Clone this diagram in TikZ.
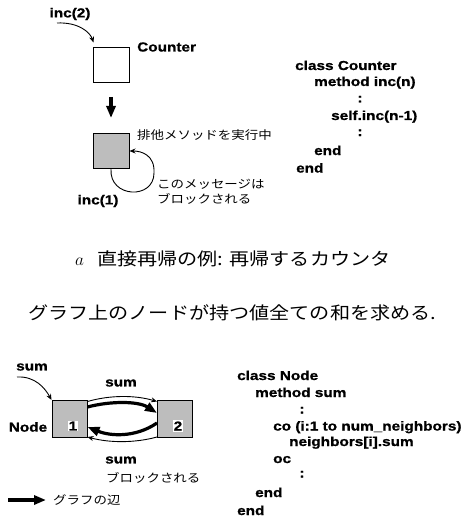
\documentclass[tikz,border=0pt]{standalone}
\usepackage{fontspec}
\newfontfamily\hb{Liberation Sans Bold}[FakeStretch=1.18,FakeBold=1]
\newfontfamily\jp{Noto Sans CJK JP}[FakeStretch=1.15]
\usetikzlibrary{arrows.meta,calc}
\begin{document}
\begin{tikzpicture}[x=1pt,y=-1pt,
  box/.style={draw,line width=1pt,minimum width=36pt,minimum height=35pt,inner sep=0pt},
  shaded/.style={box,fill=black!26},
  code/.style={anchor=base west,inner sep=0pt,font=\hb\fontsize{13}{15}\selectfont},
  lbl/.style={inner sep=0pt,font=\hb\fontsize{13}{15}\selectfont},
  jtxt/.style={anchor=west,inner sep=0pt,font=\jp\fontsize{11.7}{14}\selectfont},
  big/.style={inner sep=0pt,font=\jp\fontsize{17.5}{20}\selectfont},
  msg/.style={line width=0.9pt,-{Stealth[length=6pt,width=5pt]}},
  edgearrow/.style={line width=3.2pt,-{Triangle[length=12pt,width=9pt]}},
]
\useasboundingbox (0,0) rectangle (467,524);

% ---------- top: Counter ----------
\node[lbl] (inc2) at (70,14) {inc(2)};
\node[box] (cnt) at (111,65.5) {};
\node[lbl,anchor=west] (cntl) at (137,47) {Counter};
\coordinate (inc2s) at (57,23);
\draw[msg] (inc2s) .. controls (78,22) and (90,32) .. ($(cnt.north west)+(1,-5)$);

\coordinate (da1) at (111,97);
\coordinate (da2) at (111,118);
\draw[edgearrow] (da1) -- (da2);

\node[shaded] (busy) at (111,151) {};
\coordinate (loopr) at (154,173);
\draw[msg] (busy.south) .. controls +(-2,29) and +(0,27) .. (loopr)
  .. controls +(1,-18) and +(12,0) .. (busy.east);

\node[jtxt] (excl) at (137,135) {排他メソッドを実行中};
\node[jtxt] (blk1) at (157,184) {このメッセージは};
\node[jtxt] (blk2) at (157,199) {ブロックされる};
\node[lbl] (inc1) at (98,201) {inc(1)};

% code 1
\node[code] (c1) at (295,70) {class Counter};
\node[code] (c2) at (314,86) {method inc(n)};
\node[code,anchor=base] (c3) at (360,102.5) {:};
\node[code] (c4) at (331,120) {self.inc(n-1)};
\node[code,anchor=base] (c5) at (360,136) {:};
\node[code] (c6) at (314,155) {end};
\node[code] (c7) at (296,172.5) {end};

% captions
\node[big,anchor=base west] (capa) at (75,265) {$a$};
\node[big,anchor=west] (cap) at (97,259) {直接再帰の例: 再帰するカウンタ};
\node[big,anchor=west] (head) at (28,313) {グラフ上のノードが持つ値全ての和を求める.};

% ---------- bottom: Node graph ----------
\node[shaded,minimum width=35pt,minimum height=37pt] (n1) at (69.5,419) {};
\node[shaded,minimum width=35pt,minimum height=37pt] (n2) at (175,419) {};
\node[lbl,fill=white,inner sep=1pt] (d1) at (73,426) {1};
\node[lbl,fill=white,inner sep=1pt] (d2) at (178,426) {2};
\node[lbl] (nodel) at (28,427) {Node};
\node[lbl] (sum0) at (32,367) {sum};
\node[lbl] (sum1) at (121,383) {sum};
\node[lbl] (sum2) at (121,460) {sum};
\node[jtxt] (blk3) at (106,478) {ブロックされる};

\coordinate (s0) at (17,377);
\draw[msg] (s0) .. controls (35,376) and (45,388) .. (n1.north west);

% message 1 -> 2 (thin, upper)
\draw[msg] ($(n1.north east)+(0,1.5)$) .. controls (110,395) and (135,395) .. ($(n2.north west)+(0,1.5)$);
% graph edge 1 -> 2 (thick)
\draw[edgearrow] ($(n1.east)+(0,-12)$) .. controls (110,401) and (138,401) .. ($(n2.west)+(0,-6)$);
% graph edge 2 -> 1 (thick)
\draw[edgearrow] ($(n2.west)+(0,4)$) .. controls (135,438) and (110,436) .. ($(n1.east)+(0,8)$);
% message 2 -> 1 (thin, lower, blocked)
\draw[msg] ($(n2.south west)+(0,-1)$) .. controls (135,443) and (110,443) .. ($(n1.south east)+(0,-1)$);

% legend
\coordinate (lg1) at (8,500);
\coordinate (lg2) at (46,500);
\draw[edgearrow] (lg1) -- (lg2);
\node[jtxt] (lgt) at (53,500) {グラフの辺};

% code 2
\node[code] (e1) at (237,380) {class Node};
\node[code] (e2) at (255,397) {method sum};
\node[code,anchor=base] (e3) at (302,413.5) {:};
\node[code] (e4) at (273,430.5) {co (i:1 to num\_neighbors)};
\node[code] (e5) at (289,446) {neighbors[i].sum};
\node[code] (e6) at (273,463) {oc};
\node[code,anchor=base] (e7) at (302,477.5) {:};
\node[code] (e8) at (255,497) {end};
\node[code] (e9) at (237,515) {end};
\end{tikzpicture}
\end{document}
